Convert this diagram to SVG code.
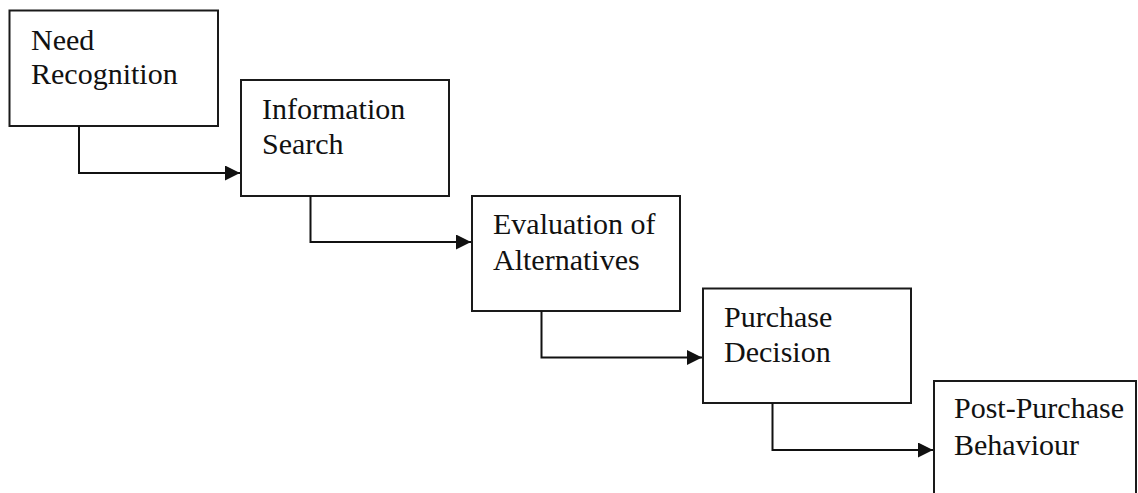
<svg xmlns="http://www.w3.org/2000/svg" width="1138" height="493" viewBox="0 0 1138 493">
<style>
.box{fill:#fff;stroke:#1a1a1a;stroke-width:2}
.lbl{font-family:"Liberation Serif","Times New Roman",serif;font-size:30px;fill:#111}
.conn{fill:none;stroke:#111;stroke-width:2}
</style>
<defs>
<marker id="arr" markerUnits="userSpaceOnUse" markerWidth="16" markerHeight="16" refX="15" refY="7.5" orient="auto">
<path d="M0,0 L15,7.5 L0,15 Z" fill="#111"/>
</marker>
</defs>
<rect width="1138" height="493" fill="#fff"/>
<g id="n1">
<rect class="box" x="9.5" y="10.5" width="208.5" height="115.5"/>
<text class="lbl" x="31" y="49.5">Need</text>
<text class="lbl" x="31" y="83.5">Recognition</text>
</g>
<g id="n2">
<rect class="box" x="241" y="80" width="208" height="116"/>
<text class="lbl" x="262" y="119">Information</text>
<text class="lbl" x="262" y="154">Search</text>
</g>
<g id="n3">
<rect class="box" x="472" y="196" width="208" height="115"/>
<text class="lbl" x="493" y="234">Evaluation of</text>
<text class="lbl" x="493" y="270">Alternatives</text>
</g>
<g id="n4">
<rect class="box" x="703" y="288.5" width="208" height="114.5"/>
<text class="lbl" x="724" y="326.5">Purchase</text>
<text class="lbl" x="724" y="361.5">Decision</text>
</g>
<g id="n5">
<rect class="box" x="934" y="381" width="202" height="130"/>
<text class="lbl" x="954" y="418">Post-Purchase</text>
<text class="lbl" x="954" y="455">Behaviour</text>
</g>
<g id="connectors">
<path class="conn" d="M79,126 V173 H240" marker-end="url(#arr)"/>
<path class="conn" d="M310.5,196 V242 H471" marker-end="url(#arr)"/>
<path class="conn" d="M541.5,311 V357.5 H702" marker-end="url(#arr)"/>
<path class="conn" d="M772.5,403 V450 H933" marker-end="url(#arr)"/>
</g>
</svg>
